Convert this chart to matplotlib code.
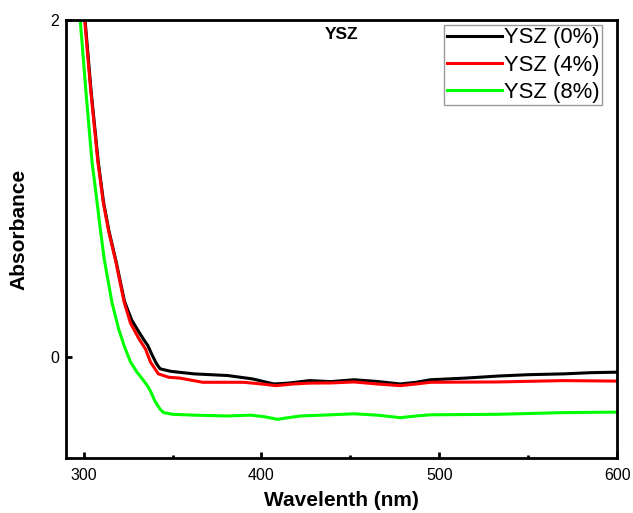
import numpy as np
import matplotlib
matplotlib.use('Agg')
import matplotlib.pyplot as plt
from matplotlib.ticker import MultipleLocator

plt.rcParams['font.family'] = ['Liberation Sans', 'DejaVu Sans']

# wavelength (nm) / absorbance
wl_0 = [300.8, 304.2, 308.2, 311.2, 314.2, 318.2, 323.0, 327.0, 331.0, 334.0, 336.0, 338.6,
        341.0, 343.0, 349.0, 362.0, 381.0, 395.0, 407.0, 415.0, 427.0, 439.0, 452.0, 465.0,
        478.0, 487.0, 495.0, 515.0, 533.0, 550.0, 570.0, 585.0, 600.0]
abs_0 = [2.00, 1.58, 1.16, 0.92, 0.75, 0.57, 0.33, 0.22, 0.15, 0.10, 0.07, 0.01,
         -0.04, -0.07, -0.085, -0.10, -0.11, -0.13, -0.16, -0.155, -0.14, -0.146, -0.135, -0.145,
         -0.16, -0.15, -0.135, -0.125, -0.113, -0.105, -0.10, -0.093, -0.09]

wl_4 = [300.6, 304.0, 308.0, 311.0, 314.0, 318.0, 322.8, 326.4, 331.0, 334.8, 337.6, 342.0,
        347.8, 354.0, 367.0, 380.0, 390.0, 400.0, 408.0, 418.0, 427.0, 439.0, 452.0, 465.0,
        478.0, 487.0, 495.0, 533.0, 570.0, 600.0]
abs_4 = [2.00, 1.58, 1.16, 0.92, 0.75, 0.57, 0.325, 0.20, 0.11, 0.047, -0.03, -0.10,
         -0.12, -0.125, -0.15, -0.15, -0.15, -0.16, -0.17, -0.16, -0.155, -0.154, -0.148, -0.16,
         -0.17, -0.16, -0.15, -0.148, -0.14, -0.143]

wl_8 = [298.1, 301.5, 304.7, 306.9, 309.2, 311.6, 315.9, 319.7, 323.0, 326.4, 330.0, 333.0,
        335.8, 337.5, 340.0, 343.0, 345.0, 350.0, 362.0, 381.0, 394.0, 402.0, 409.0, 415.0,
        422.0, 439.0, 452.0, 465.0, 478.0, 487.0, 495.0, 533.0, 570.0, 600.0]
abs_8 = [2.00, 1.55, 1.16, 0.976, 0.775, 0.58, 0.325, 0.166, 0.06, -0.03, -0.09, -0.13,
         -0.17, -0.20, -0.26, -0.31, -0.33, -0.34, -0.345, -0.35, -0.345, -0.355, -0.37, -0.36,
         -0.35, -0.343, -0.337, -0.345, -0.36, -0.35, -0.343, -0.34, -0.33, -0.327]

labels = ['YSZ (0%)', 'YSZ (4%)', 'YSZ (8%)']
colors = ['black', 'red', '#00ff00']

fig = plt.figure(figsize=(6.33, 5.13), dpi=100)
ax = fig.add_axes([0.104, 0.107, 0.871, 0.854])

for x, y, lab, c in zip([wl_0, wl_4, wl_8], [abs_0, abs_4, abs_8], labels, colors):
    ax.plot(x, y, color=c, lw=2.2, label=lab)

ax.set_xlim(290, 600)
ax.set_ylim(-0.6, 2)
ax.xaxis.set_major_locator(MultipleLocator(100))
ax.xaxis.set_minor_locator(MultipleLocator(50))
ax.yaxis.set_major_locator(MultipleLocator(2))
ax.tick_params(which='both', direction='in', width=2, labelsize=11.5)
ax.tick_params(which='major', length=4)
ax.tick_params(which='minor', length=2)
ax.tick_params(axis='x', pad=7)
ax.tick_params(axis='y', pad=5)
for s in ax.spines.values():
    s.set_linewidth(2)

ax.set_xlabel('Wavelenth (nm)', fontsize=15, fontweight='bold', labelpad=6)
ax.set_ylabel('Absorbance', fontsize=15, fontweight='bold')
ax.yaxis.set_label_coords(-0.068, 0.523)
ax.text(0.5, 0.985, 'YSZ', transform=ax.transAxes, ha='center', va='top',
        fontsize=12.5, fontweight='bold')

leg = ax.legend(loc='upper right', bbox_to_anchor=(0.973, 0.989), fontsize=15.8,
                frameon=True, fancybox=False, edgecolor='gray', handlelength=2.5,
                handletextpad=0.1, labelspacing=0.28, borderpad=0.12, borderaxespad=0)
leg.get_frame().set_linewidth(1)
for h in leg.get_lines():
    h.set_linewidth(2.2)

fig.savefig('out.png', dpi=100)
